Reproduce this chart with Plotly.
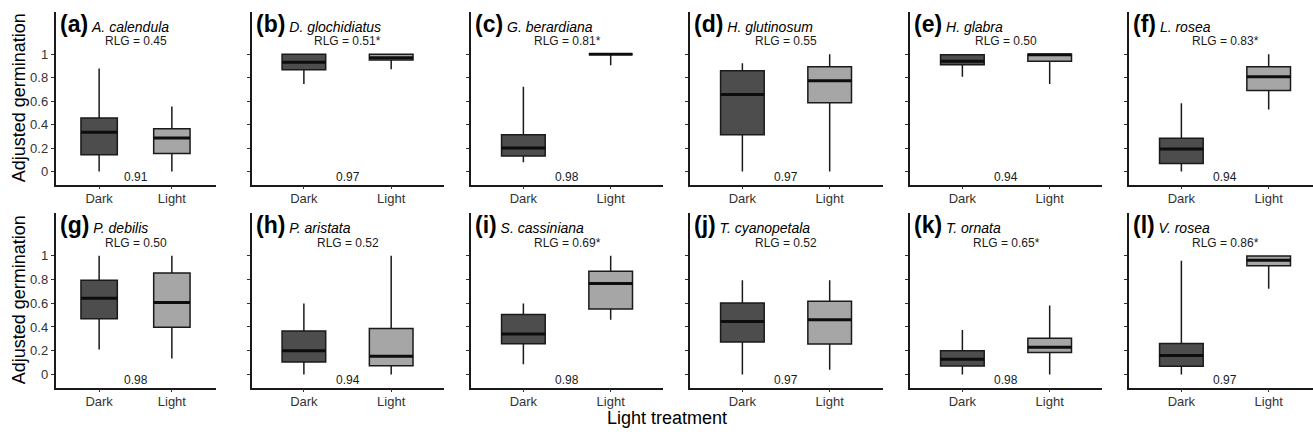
import plotly.graph_objects as go

# ---------------- data ----------------
panel_labels = ["(a)", "(b)", "(c)", "(d)", "(e)", "(f)",
                "(g)", "(h)", "(i)", "(j)", "(k)", "(l)"]
species = ["A. calendula", "D. glochidiatus", "G. berardiana", "H. glutinosum",
           "H. glabra", "L. rosea", "P. debilis", "P. aristata", "S. cassiniana",
           "T. cyanopetala", "T. ornata", "V. rosea"]
rlg_text = ["RLG = 0.45", "RLG = 0.51*", "RLG = 0.81*", "RLG = 0.55",
            "RLG = 0.50", "RLG = 0.83*", "RLG = 0.50", "RLG = 0.52",
            "RLG = 0.69*", "RLG = 0.52", "RLG = 0.65*", "RLG = 0.86*"]
bottom_text = ["0.91", "0.97", "0.98", "0.97", "0.94", "0.94",
               "0.98", "0.94", "0.98", "0.97", "0.98", "0.97"]

categories = ["Dark", "Light"]
cat_pos = [1, 2]

dark_lower = [0.0, 0.746, 0.079, 0.0, 0.808, 0.0, 0.21, 0.0, 0.085, 0.0, 0.0, 0.0]
dark_q1 = [0.144, 0.868, 0.132, 0.313, 0.91, 0.068, 0.469, 0.105, 0.259, 0.273, 0.071, 0.068]
dark_med = [0.335, 0.932, 0.2, 0.656, 0.941, 0.192, 0.642, 0.199, 0.341, 0.446, 0.128, 0.159]
dark_q3 = [0.456, 1.0, 0.313, 0.859, 0.995, 0.285, 0.793, 0.366, 0.506, 0.602, 0.199, 0.261]
dark_upper = [0.879, 1.0, 0.724, 0.924, 0.995, 0.583, 1.0, 0.597, 0.597, 0.793, 0.375, 0.957]

light_lower = [0.0, 0.873, 0.907, 0.0, 0.746, 0.53, 0.134, 0.0, 0.46, 0.04, 0.0, 0.722]
light_q1 = [0.155, 0.95, 1.0, 0.586, 0.941, 0.69, 0.398, 0.074, 0.551, 0.256, 0.185, 0.915]
light_med = [0.287, 0.97, 1.0, 0.775, 0.995, 0.808, 0.605, 0.153, 0.767, 0.46, 0.23, 0.963]
light_q3 = [0.366, 1.0, 1.0, 0.893, 1.0, 0.893, 0.855, 0.386, 0.869, 0.616, 0.304, 0.997]
light_upper = [0.555, 1.0, 1.0, 1.0, 1.0, 1.0, 1.0, 1.0, 1.0, 0.793, 0.58, 0.997]

y_tickvals = [0, 0.2, 0.4, 0.6, 0.8, 1]
y_ticktext = ["0", "0.2", "0.4", "0.6", "0.8", "1"]

# ---------------- layout geometry ----------------
W, H = 1313, 440
col_px = [(55.5, 215.5), (251.5, 443.5), (471, 663), (690, 883), (910, 1102), (1129, 1313)]
row_px = [(12, 184.5), (213, 387.5)]
unit_px = 87.3
FONT = "Liberation Sans, Arial, sans-serif"
DARK_FILL = "#4d4d4d"
LIGHT_FILL = "#a6a6a6"
EDGE = "#1a1a1a"
BOX_W = 0.5

fig = go.Figure()
layout = {}
annotations = []

for i in range(12):
    r, c = divmod(i, 6)
    k = i + 1
    xs = "" if k == 1 else str(k)
    xname, yname = "x" + xs, "y" + xs
    x0, x1 = col_px[c]
    y0, y1 = row_px[r]
    if c == 0:
        xr = [0.4, 2.6]
    else:
        xr = [0.4, 0.4 + (x1 - x0) / unit_px]
    layout["xaxis" + xs] = dict(
        domain=[x0 / W, x1 / W], anchor=yname, range=xr,
        tickvals=cat_pos, ticktext=categories, showgrid=False, zeroline=False,
        showline=True, linecolor=EDGE, linewidth=1.5, ticks="outside", ticklen=3,
        tickwidth=1, tickcolor="#333333", ticklabelstandoff=-2,
        tickfont=dict(family=FONT, size=13, color="#333333"), fixedrange=True)
    layout["yaxis" + xs] = dict(
        domain=[1 - y1 / H, 1 - y0 / H], anchor=xname, range=[-0.11, 1.36],
        tickvals=y_tickvals, ticktext=y_ticktext, showticklabels=(c == 0),
        showgrid=False, zeroline=False, showline=True, linecolor=EDGE,
        linewidth=1.5, ticks="outside", ticklen=3, tickwidth=1,
        tickcolor="#333333", tickfont=dict(family=FONT, size=13, color="#333333"),
        fixedrange=True)

    stats = [
        (dark_lower[i], dark_q1[i], dark_med[i], dark_q3[i], dark_upper[i], DARK_FILL),
        (light_lower[i], light_q1[i], light_med[i], light_q3[i], light_upper[i], LIGHT_FILL),
    ]
    for pos, (lo, q1, med, q3, up, fill) in zip(cat_pos, stats):
        fig.add_trace(go.Box(
            x=[pos], lowerfence=[lo], q1=[q1], median=[med], q3=[q3], upperfence=[up],
            width=BOX_W, fillcolor=fill, line=dict(color=EDGE, width=1.5),
            whiskerwidth=0, boxpoints=False, showlegend=False, hoverinfo="skip",
            xaxis=xname, yaxis=yname))
        fig.add_trace(go.Scatter(
            x=[pos - BOX_W / 2, pos + BOX_W / 2], y=[med, med], mode="lines",
            line=dict(color="#0d0d0d", width=3), showlegend=False,
            hoverinfo="skip", xaxis=xname, yaxis=yname))

    annotations.append(dict(
        xref=xname + " domain", yref=yname, x=0, y=1.26, xanchor="left",
        yanchor="middle", xshift=2, showarrow=False,
        text=f"<span style='font-size:23px'><b>{panel_labels[i]}</b></span> <i>{species[i]}</i>",
        font=dict(family=FONT, size=14, color="#000000")))
    annotations.append(dict(
        xref=xname, yref=yname, x=1.5, y=1.11, xanchor="center", yanchor="middle",
        showarrow=False, text=rlg_text[i],
        font=dict(family=FONT, size=12, color="#1a1a1a")))
    annotations.append(dict(
        xref=xname, yref=yname, x=1.5, y=-0.045, xanchor="center", yanchor="middle",
        showarrow=False, text=bottom_text[i],
        font=dict(family=FONT, size=12, color="#1a1a1a")))

for r in range(2):
    y0, y1 = row_px[r]
    annotations.append(dict(
        xref="paper", yref="paper", x=19 / W, y=1 - ((y0 + y1) / 2) / H,
        xanchor="center", yanchor="middle", textangle=-90, showarrow=False,
        text="Adjusted germination", font=dict(family=FONT, size=18, color="#000000")))

annotations.append(dict(
    xref="paper", yref="paper", x=667 / W, y=1 - 418 / H, xanchor="center",
    yanchor="middle", showarrow=False, text="Light treatment",
    font=dict(family=FONT, size=18, color="#000000")))

fig.update_layout(
    width=W, height=H, margin=dict(l=0, r=0, t=0, b=0),
    paper_bgcolor="white", plot_bgcolor="white", boxmode="overlay",
    annotations=annotations, **layout)

fig.write_html(
    "out.html",
    config={"displayModeBar": False},
    post_script="document.body.style.margin='0px';document.body.style.overflow='hidden';")
